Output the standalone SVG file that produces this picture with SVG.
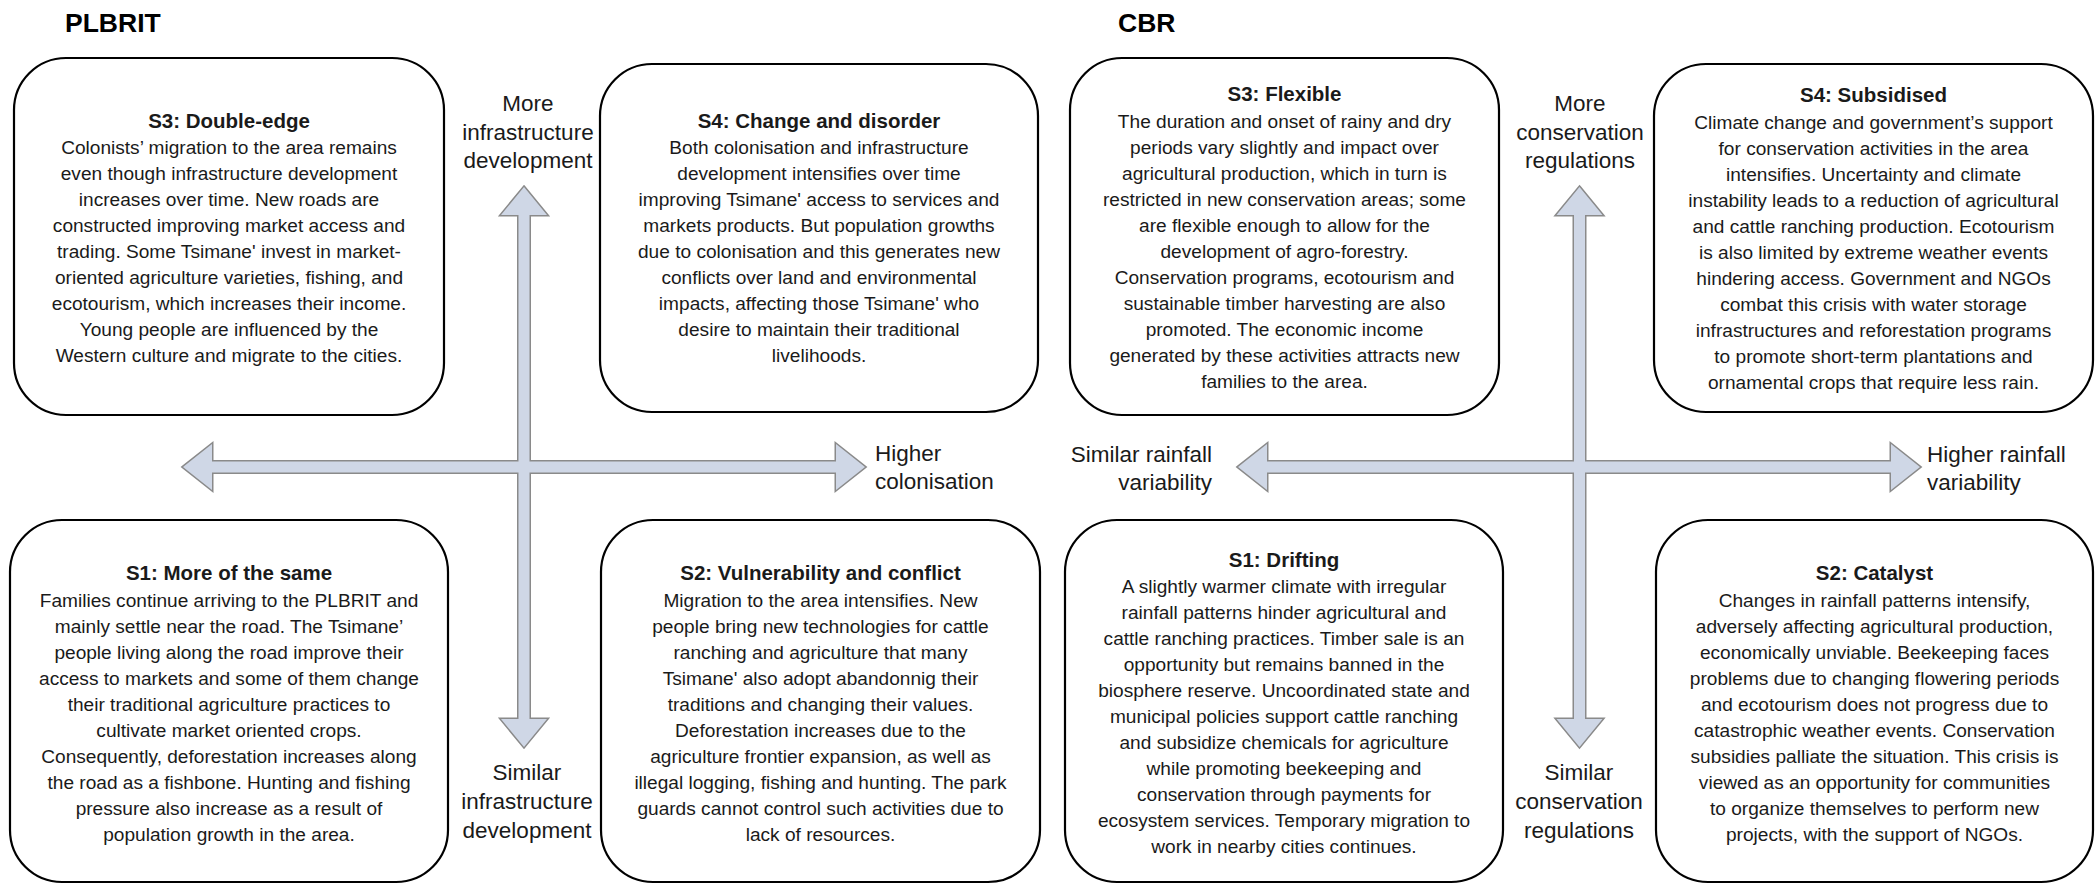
<svg xmlns="http://www.w3.org/2000/svg" width="2098" height="885" viewBox="0 0 2098 885">
<style>
.box{fill:#fff;stroke:#000;stroke-width:2.2}
.t{font-family:"Liberation Sans",Arial,sans-serif;font-size:19.1px;fill:#1a1a1a;text-anchor:middle}
.h{font-weight:bold;font-size:20.5px}
.ax{font-family:"Liberation Sans",Arial,sans-serif;font-size:22.5px;fill:#1a1a1a}
.hd{font-family:"Liberation Sans",Arial,sans-serif;font-size:26.5px;font-weight:bold;fill:#000}
.aro{fill:none;stroke:#8a8a8a;stroke-width:3}
.arf{fill:#cfd7e6;stroke:none}
</style>
<rect width="2098" height="885" fill="#fff"/>
<text class="hd" x="65" y="32">PLBRIT</text>
<text class="hd" x="1118" y="32">CBR</text>

<g id="connectors">
<g id="axes-plbrit">
<polygon id="plbrit-h" class="aro" points="183,467 212,444 212,461.5 836,461.5 836,444 865,467 836,490 836,472.5 212,472.5 212,490"/>
<polygon id="plbrit-v" class="aro" points="524,187 547,215 529.5,215 529.5,719 547,719 524,747 501,719 518.5,719 518.5,215 501,215"/>
<polygon class="arf" points="183,467 212,444 212,461.5 836,461.5 836,444 865,467 836,490 836,472.5 212,472.5 212,490"/>
<polygon class="arf" points="524,187 547,215 529.5,215 529.5,719 547,719 524,747 501,719 518.5,719 518.5,215 501,215"/>
</g>
<g id="axes-cbr">
<polygon id="cbr-h" class="aro" points="1238,467 1267,444 1267,461.5 1891,461.5 1891,444 1920,467 1891,490 1891,472.5 1267,472.5 1267,490"/>
<polygon id="cbr-v" class="aro" points="1579.5,187 1602.5,215 1585,215 1585,719 1602.5,719 1579.5,747 1556.5,719 1574,719 1574,215 1556.5,215"/>
<polygon class="arf" points="1238,467 1267,444 1267,461.5 1891,461.5 1891,444 1920,467 1891,490 1891,472.5 1267,472.5 1267,490"/>
<polygon class="arf" points="1579.5,187 1602.5,215 1585,215 1585,719 1602.5,719 1579.5,747 1556.5,719 1574,719 1574,215 1556.5,215"/>
</g>
</g>

<g id="axis-labels">
<text class="ax" text-anchor="middle"><tspan x="528" y="111">More</tspan><tspan x="528" y="140">infrastructure</tspan><tspan x="528" y="168">development</tspan></text>
<text class="ax" text-anchor="middle"><tspan x="527" y="780">Similar</tspan><tspan x="527" y="809">infrastructure</tspan><tspan x="527" y="838">development</tspan></text>
<text class="ax"><tspan x="875" y="461">Higher</tspan><tspan x="875" y="489">colonisation</tspan></text>
<text class="ax" text-anchor="middle"><tspan x="1580" y="111">More</tspan><tspan x="1580" y="140">conservation</tspan><tspan x="1580" y="168">regulations</tspan></text>
<text class="ax" text-anchor="middle"><tspan x="1579" y="780">Similar</tspan><tspan x="1579" y="809">conservation</tspan><tspan x="1579" y="838">regulations</tspan></text>
<text class="ax" text-anchor="end"><tspan x="1212" y="462">Similar rainfall</tspan><tspan x="1212" y="490">variability</tspan></text>
<text class="ax"><tspan x="1927" y="462">Higher rainfall</tspan><tspan x="1927" y="490">variability</tspan></text>
</g>

<g id="plbrit-s3">
<rect class="box" x="14" y="58" width="430" height="357" rx="52"/>
<text class="t"><tspan class="h" x="229" y="128">S3: Double-edge</tspan><tspan x="229" y="154">Colonists’ migration to the area remains</tspan><tspan x="229" y="180">even though infrastructure development</tspan><tspan x="229" y="206">increases over time. New roads are</tspan><tspan x="229" y="232">constructed improving market access and</tspan><tspan x="229" y="258">trading. Some Tsimane' invest in market-</tspan><tspan x="229" y="284">oriented agriculture varieties, fishing, and</tspan><tspan x="229" y="310">ecotourism, which increases their income.</tspan><tspan x="229" y="336">Young people are influenced by the</tspan><tspan x="229" y="362">Western culture and migrate to the cities.</tspan></text>
</g>

<g id="plbrit-s4">
<rect class="box" x="600" y="64" width="438" height="348" rx="52"/>
<text class="t"><tspan class="h" x="819" y="128">S4: Change and disorder</tspan><tspan x="819" y="154">Both colonisation and infrastructure</tspan><tspan x="819" y="180">development intensifies over time</tspan><tspan x="819" y="206">improving Tsimane' access to services and</tspan><tspan x="819" y="232">markets products. But population growths</tspan><tspan x="819" y="258">due to colonisation and this generates new</tspan><tspan x="819" y="284">conflicts over land and environmental</tspan><tspan x="819" y="310">impacts, affecting those Tsimane' who</tspan><tspan x="819" y="336">desire to maintain their traditional</tspan><tspan x="819" y="362">livelihoods.</tspan></text>
</g>

<g id="plbrit-s1">
<rect class="box" x="10" y="520" width="438" height="362" rx="52"/>
<text class="t"><tspan class="h" x="229" y="580">S1: More of the same</tspan><tspan x="229" y="607">Families continue arriving to the PLBRIT and</tspan><tspan x="229" y="633">mainly settle near the road. The Tsimane’</tspan><tspan x="229" y="659">people living along the road improve their</tspan><tspan x="229" y="685">access to markets and some of them change</tspan><tspan x="229" y="711">their traditional agriculture practices to</tspan><tspan x="229" y="737">cultivate market oriented crops.</tspan><tspan x="229" y="763">Consequently, deforestation increases along</tspan><tspan x="229" y="789">the road as a fishbone. Hunting and fishing</tspan><tspan x="229" y="815">pressure also increase as a result of</tspan><tspan x="229" y="841">population growth in the area.</tspan></text>
</g>

<g id="plbrit-s2">
<rect class="box" x="601" y="520" width="439" height="362" rx="52"/>
<text class="t"><tspan class="h" x="820.5" y="580">S2: Vulnerability and conflict</tspan><tspan x="820.5" y="607">Migration to the area intensifies. New</tspan><tspan x="820.5" y="633">people bring new technologies for cattle</tspan><tspan x="820.5" y="659">ranching and agriculture that many</tspan><tspan x="820.5" y="685">Tsimane' also adopt abandonnig their</tspan><tspan x="820.5" y="711">traditions and changing their values.</tspan><tspan x="820.5" y="737">Deforestation increases due to the</tspan><tspan x="820.5" y="763">agriculture frontier expansion, as well as</tspan><tspan x="820.5" y="789">illegal logging, fishing and hunting. The park</tspan><tspan x="820.5" y="815">guards cannot control such activities due to</tspan><tspan x="820.5" y="841">lack of resources.</tspan></text>
</g>

<g id="cbr-s3">
<rect class="box" x="1070" y="58" width="429" height="357" rx="52"/>
<text class="t"><tspan class="h" x="1284.5" y="101">S3: Flexible</tspan><tspan x="1284.5" y="128">The duration and onset of rainy and dry</tspan><tspan x="1284.5" y="154">periods vary slightly and impact over</tspan><tspan x="1284.5" y="180">agricultural production, which in turn is</tspan><tspan x="1284.5" y="206">restricted in new conservation areas; some</tspan><tspan x="1284.5" y="232">are flexible enough to allow for the</tspan><tspan x="1284.5" y="258">development of agro-forestry.</tspan><tspan x="1284.5" y="284">Conservation programs, ecotourism and</tspan><tspan x="1284.5" y="310">sustainable timber harvesting are also</tspan><tspan x="1284.5" y="336">promoted. The economic income</tspan><tspan x="1284.5" y="362">generated by these activities attracts new</tspan><tspan x="1284.5" y="388">families to the area.</tspan></text>
</g>

<g id="cbr-s4">
<rect class="box" x="1654" y="64" width="439" height="348" rx="52"/>
<text class="t"><tspan class="h" x="1873.5" y="102">S4: Subsidised</tspan><tspan x="1873.5" y="129">Climate change and government’s support</tspan><tspan x="1873.5" y="155">for conservation activities in the area</tspan><tspan x="1873.5" y="181">intensifies. Uncertainty and climate</tspan><tspan x="1873.5" y="207">instability leads to a reduction of agricultural</tspan><tspan x="1873.5" y="233">and cattle ranching production. Ecotourism</tspan><tspan x="1873.5" y="259">is also limited by extreme weather events</tspan><tspan x="1873.5" y="285">hindering access. Government and NGOs</tspan><tspan x="1873.5" y="311">combat this crisis with water storage</tspan><tspan x="1873.5" y="337">infrastructures and reforestation programs</tspan><tspan x="1873.5" y="363">to promote short-term plantations and</tspan><tspan x="1873.5" y="389">ornamental crops that require less rain.</tspan></text>
</g>

<g id="cbr-s1">
<rect class="box" x="1065" y="520" width="438" height="362" rx="52"/>
<text class="t"><tspan class="h" x="1284" y="567">S1: Drifting</tspan><tspan x="1284" y="593">A slightly warmer climate with irregular</tspan><tspan x="1284" y="619">rainfall patterns hinder agricultural and</tspan><tspan x="1284" y="645">cattle ranching practices. Timber sale is an</tspan><tspan x="1284" y="671">opportunity but remains banned in the</tspan><tspan x="1284" y="697">biosphere reserve. Uncoordinated state and</tspan><tspan x="1284" y="723">municipal policies support cattle ranching</tspan><tspan x="1284" y="749">and subsidize chemicals for agriculture</tspan><tspan x="1284" y="775">while promoting beekeeping and</tspan><tspan x="1284" y="801">conservation through payments for</tspan><tspan x="1284" y="827">ecosystem services. Temporary migration to</tspan><tspan x="1284" y="853">work in nearby cities continues.</tspan></text>
</g>

<g id="cbr-s2">
<rect class="box" x="1656" y="520" width="437" height="362" rx="52"/>
<text class="t"><tspan class="h" x="1874.5" y="580">S2: Catalyst</tspan><tspan x="1874.5" y="607">Changes in rainfall patterns intensify,</tspan><tspan x="1874.5" y="633">adversely affecting agricultural production,</tspan><tspan x="1874.5" y="659">economically unviable. Beekeeping faces</tspan><tspan x="1874.5" y="685">problems due to changing flowering periods</tspan><tspan x="1874.5" y="711">and ecotourism does not progress due to</tspan><tspan x="1874.5" y="737">catastrophic weather events. Conservation</tspan><tspan x="1874.5" y="763">subsidies palliate the situation. This crisis is</tspan><tspan x="1874.5" y="789">viewed as an opportunity for communities</tspan><tspan x="1874.5" y="815">to organize themselves to perform new</tspan><tspan x="1874.5" y="841">projects, with the support of NGOs.</tspan></text>
</g>
</svg>
